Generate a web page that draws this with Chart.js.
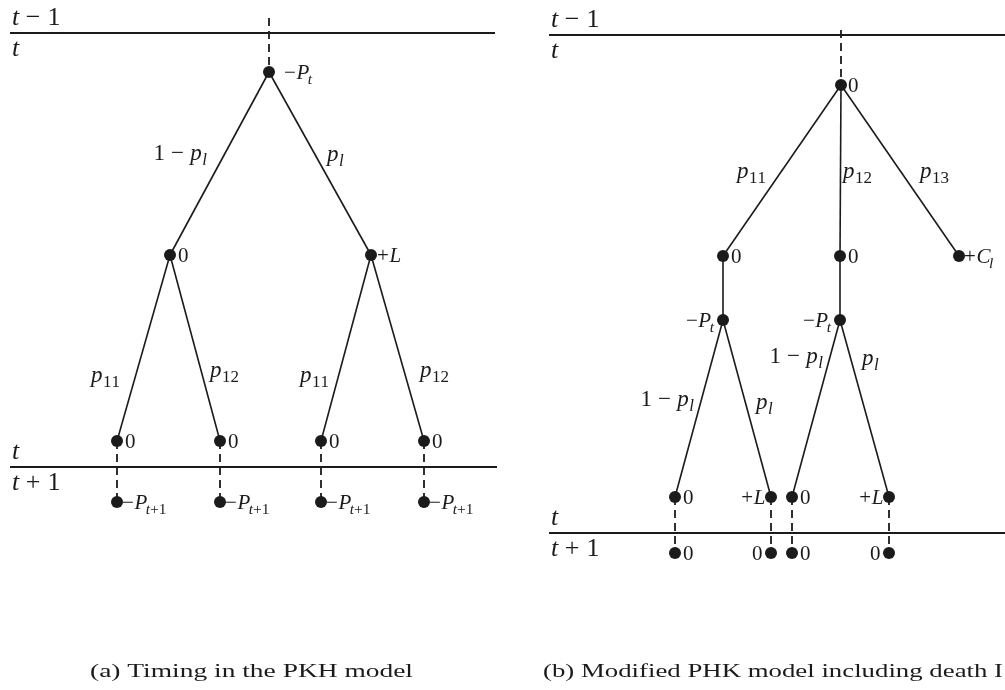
<!DOCTYPE html>
<html>
<head>
<meta charset="utf-8">
<script src="https://cdn.jsdelivr.net/npm/chart.js@4/dist/chart.umd.min.js"></script>
<style>
  html, body { margin: 0; padding: 0; background: #fff; }
  canvas { display: block; }
</style>
</head>
<body>
<canvas id="tree" width="1005" height="690"></canvas>
<script>
// tree nodes (diagram units), value label and which side of the node it sits on
const nodesA = [
  { x: 269, y: 72,  label: '−P_t', side: 'r', gap: 15 },
  { x: 170, y: 255, label: '0',    side: 'r' },
  { x: 371, y: 255, label: '+L',   side: 'r', gap: 6 },
  { x: 117, y: 441, label: '0',    side: 'r' },
  { x: 220, y: 441, label: '0',    side: 'r' },
  { x: 321, y: 441, label: '0',    side: 'r' },
  { x: 424, y: 441, label: '0',    side: 'r' },
  { x: 117, y: 502, label: '−P_{t+1}', side: 'r', gap: 5 },
  { x: 220, y: 502, label: '−P_{t+1}', side: 'r', gap: 5 },
  { x: 321, y: 502, label: '−P_{t+1}', side: 'r', gap: 5 },
  { x: 424, y: 502, label: '−P_{t+1}', side: 'r', gap: 5 }
];
const edgesA  = [[0, 1], [0, 2], [1, 3], [1, 4], [2, 5], [2, 6]];
const dashesA = [[3, 7], [4, 8], [5, 9], [6, 10]];
const probsA  = [
  { x: 207, y: 152, text: '1 − p_l', side: 'l' },
  { x: 327, y: 153, text: 'p_l',     side: 'r' },
  { x: 91,  y: 374, text: 'p_{11}',  side: 'r' },
  { x: 210, y: 369, text: 'p_{12}',  side: 'r' },
  { x: 300, y: 374, text: 'p_{11}',  side: 'r' },
  { x: 420, y: 369, text: 'p_{12}',  side: 'r' }
];

const nodesB = [
  { x: 841, y: 85,  label: '0',    side: 'r', gap: 7 },
  { x: 723, y: 256, label: '0',    side: 'r' },
  { x: 840, y: 256, label: '0',    side: 'r' },
  { x: 959, y: 256, label: '+C_l', side: 'r', gap: 5 },
  { x: 723, y: 320, label: '−P_t', side: 'l', gap: 9 },
  { x: 840, y: 320, label: '−P_t', side: 'l', gap: 9 },
  { x: 675, y: 497, label: '0',    side: 'r' },
  { x: 771, y: 497, label: '+L',   side: 'l', gap: 5 },
  { x: 792, y: 497, label: '0',    side: 'r' },
  { x: 889, y: 497, label: '+L',   side: 'l', gap: 5 },
  { x: 675, y: 553, label: '0',    side: 'r' },
  { x: 771, y: 553, label: '0',    side: 'l' },
  { x: 792, y: 553, label: '0',    side: 'r' },
  { x: 889, y: 553, label: '0',    side: 'l' }
];
const edgesB  = [[0, 1], [0, 2], [0, 3], [1, 4], [2, 5], [4, 6], [4, 7], [5, 8], [5, 9]];
const dashesB = [[6, 10], [7, 11], [8, 12], [9, 13]];
const probsB  = [
  { x: 737, y: 170, text: 'p_{11}',  side: 'r' },
  { x: 843, y: 170, text: 'p_{12}',  side: 'r' },
  { x: 920, y: 170, text: 'p_{13}',  side: 'r' },
  { x: 694, y: 398, text: '1 − p_l', side: 'l' },
  { x: 756, y: 401, text: 'p_l',     side: 'r' },
  { x: 823, y: 355, text: '1 − p_l', side: 'l' },
  { x: 862, y: 357, text: 'p_l',     side: 'r' }
];

// period boundaries: y of the line, x span, label above and below
const periods = [
  { y: 33,  x0: 10,  x1: 495,  above: 't − 1', below: 't' },
  { y: 467, x0: 10,  x1: 497,  above: 't',     below: 't + 1' },
  { y: 35,  x0: 549, x1: 1005, above: 't − 1', below: 't' },
  { y: 533, x0: 549, x1: 1005, above: 't',     below: 't + 1' }
];
const rootStubs = [
  { x: 269, y0: 18, y1: 72 },
  { x: 841, y0: 30, y1: 85 }
];
const captions = [
  { x: 90,  y: 677, text: '(a) Timing in the PKH model', width: 323 },
  { x: 543, y: 677, text: '(b) Modified PHK model including death I', width: 460 }
];

const INK = '#1b1b1b';
const FONT = '"Liberation Serif", serif';

function seg(a, b, dashed, width) {
  return {
    type: 'scatter', showLine: true, data: [a, b],
    borderColor: INK, borderWidth: width || 1.6, pointRadius: 0,
    borderDash: dashed ? [8, 5] : [], fill: false
  };
}

const datasets = [];
periods.forEach(p => datasets.push(seg({ x: p.x0, y: p.y }, { x: p.x1, y: p.y }, false, 2)));
rootStubs.forEach(s => datasets.push(seg({ x: s.x, y: s.y0 }, { x: s.x, y: s.y1 }, true, 1.8)));
[[nodesA, edgesA, dashesA], [nodesB, edgesB, dashesB]].forEach(([nodes, edges, dashes]) => {
  edges.forEach(([i, j]) => datasets.push(seg(nodes[i], nodes[j], false)));
  dashes.forEach(([i, j]) => datasets.push(seg(nodes[i], nodes[j], true, 1.8)));
  datasets.push({
    type: 'scatter', data: nodes.map(n => ({ x: n.x, y: n.y })),
    pointRadius: 6, pointBackgroundColor: INK, pointBorderWidth: 0
  });
});

// small math typesetter: letters italic, subscripts after '_'
function parseMath(s) {
  const runs = [];
  let i = 0;
  while (i < s.length) {
    if (s[i] === '_') {
      i++;
      let g;
      if (s[i] === '{') { const j = s.indexOf('}', i); g = s.slice(i + 1, j); i = j + 1; }
      else { g = s[i]; i++; }
      g.split('').forEach((ch, k) => runs.push({ ch, sub: true, first: k === 0 }));
      continue;
    }
    runs.push({ ch: s[i], sub: false });
    i++;
  }
  return runs;
}

function drawMath(ctx, s, x, y, size, align) {
  const runs = parseMath(s);
  const fontOf = r => (/[A-Za-z]/.test(r.ch) ? 'italic ' : '') +
    (r.sub ? size * 0.74 : size).toFixed(1) + 'px ' + FONT;
  let total = 0;
  runs.forEach((r, k) => {
    ctx.font = fontOf(r);
    r.w = r.ch === ' ' ? size * 0.24 : ctx.measureText(r.ch).width * (r.sub ? 1 : 1.05);
    // tuck the subscript under an italic capital
    r.kern = (r.sub && r.first && k > 0 && /[A-Z]/.test(runs[k - 1].ch)) ? -size * 0.1 : 0;
    total += r.w + r.kern;
  });
  let cx = align === 'l' ? x - total : x;
  ctx.textAlign = 'left';
  ctx.textBaseline = 'alphabetic';
  runs.forEach(r => {
    ctx.font = fontOf(r);
    cx += r.kern;
    if (r.ch !== ' ') ctx.fillText(r.ch, cx, y + size * 0.33 + (r.sub ? size * 0.24 : 0));
    cx += r.w;
  });
}

const textPlugin = {
  id: 'treeText',
  afterDatasetsDraw(chart) {
    const ctx = chart.ctx, xs = chart.scales.x, ys = chart.scales.y;
    ctx.save();
    ctx.fillStyle = INK;
    [nodesA, nodesB].forEach(nodes => nodes.forEach(n => {
      const px = xs.getPixelForValue(n.x), py = ys.getPixelForValue(n.y);
      const gap = n.gap || 8;
      if (n.side === 'r') drawMath(ctx, n.label, px + gap, py, 21, 'r');
      else drawMath(ctx, n.label, px - gap, py, 21, 'l');
    }));
    [probsA, probsB].forEach(list => list.forEach(p => {
      drawMath(ctx, p.text, xs.getPixelForValue(p.x), ys.getPixelForValue(p.y), 23, p.side);
    }));
    periods.forEach(p => {
      const px = xs.getPixelForValue(p.x0) + 2;
      drawMath(ctx, p.above, px, ys.getPixelForValue(p.y) - 17, 26, 'r');
      drawMath(ctx, p.below, px, ys.getPixelForValue(p.y) + 14, 26, 'r');
    });
    // captions, stretched to the width of the typeset original
    ctx.font = '19px ' + FONT;
    ctx.textAlign = 'left';
    ctx.textBaseline = 'alphabetic';
    captions.forEach(c => {
      const sx = c.width / ctx.measureText(c.text).width;
      ctx.save();
      ctx.translate(xs.getPixelForValue(c.x), ys.getPixelForValue(c.y));
      ctx.scale(sx, 1);
      ctx.fillText(c.text, 0, 0);
      ctx.restore();
    });
    ctx.restore();
  }
};

new Chart(document.getElementById('tree'), {
  type: 'scatter',
  data: { datasets },
  options: {
    responsive: false,
    animation: false,
    layout: { padding: 0, autoPadding: false },
    plugins: { legend: { display: false }, tooltip: { enabled: false } },
    scales: {
      x: { type: 'linear', min: 0, max: 1005, display: false },
      y: { type: 'linear', min: 0, max: 690, reverse: true, display: false }
    }
  },
  plugins: [textPlugin]
});
</script>
</body>
</html>
